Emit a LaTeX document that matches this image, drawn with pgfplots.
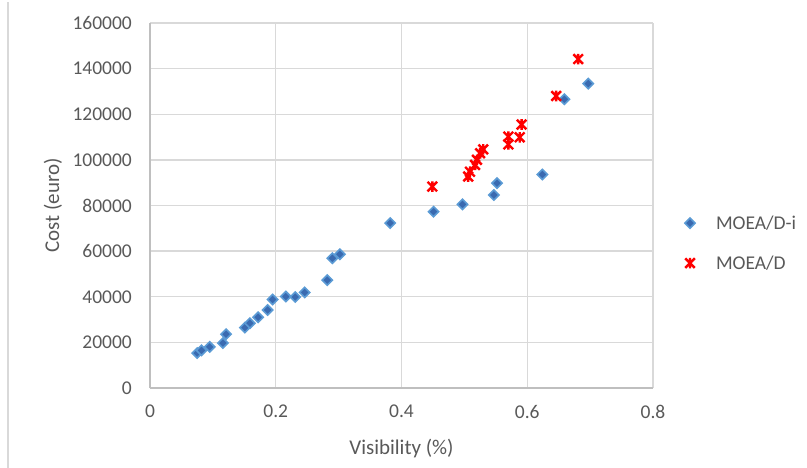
\documentclass[border=0pt]{standalone}
\usepackage{fontspec}
\setmainfont{Carlito}
\usepackage{pgfplots}
\pgfplotsset{compat=1.18}
\definecolor{txt}{HTML}{595959}
\definecolor{gridc}{HTML}{D9D9D9}
\definecolor{axc}{HTML}{BFBFBF}
\definecolor{bluef}{HTML}{3A6AB0}
\definecolor{bluee}{HTML}{5B9BD5}
\pgfdeclareplotmark{xstar}{%
 \pgfpathmoveto{\pgfqpoint{-\pgfplotmarksize}{-\pgfplotmarksize}}%
 \pgfpathlineto{\pgfqpoint{\pgfplotmarksize}{\pgfplotmarksize}}%
 \pgfpathmoveto{\pgfqpoint{-\pgfplotmarksize}{\pgfplotmarksize}}%
 \pgfpathlineto{\pgfqpoint{\pgfplotmarksize}{-\pgfplotmarksize}}%
 \pgfpathmoveto{\pgfqpoint{0pt}{-1.1\pgfplotmarksize}}%
 \pgfpathlineto{\pgfqpoint{0pt}{1.1\pgfplotmarksize}}%
 \pgfusepathqstroke}
\pgfplotstableread{
x y
0.075 15300
0.082 16500
0.095 18000
0.116 19700
0.121 23600
0.151 26500
0.159 28400
0.172 31000
0.187 34200
0.195 38800
0.216 40100
0.231 39900
0.246 41900
0.282 47300
0.290 56900
0.302 58600
0.382 72300
0.451 77300
0.497 80500
0.547 84600
0.552 89800
0.624 93600
0.659 126600
0.697 133400
}\bluedata
\pgfplotstableread{
x y
0.449 88300
0.506 92700
0.509 94800
0.517 97800
0.520 100000
0.525 102900
0.530 104600
0.570 106800
0.570 110200
0.588 109900
0.591 115500
0.646 128000
0.681 144200
}\reddata
\begin{document}
\begin{tikzpicture}
\path[use as bounding box] (0bp,0bp) rectangle (807bp,-468bp);
\draw[gridc, line width=1.2bp] (8bp,-2bp) -- (8bp,-468bp);
\begin{axis}[
 at={(150bp,-388bp)}, anchor=south west,
 scale only axis, width=503bp, height=365bp,
 xmin=0, xmax=0.8, ymin=0, ymax=160000,
 xtick={0,0.2,0.4,0.6,0.8}, ytick={0,20000,...,160000},
 scaled ticks=false,
 /pgf/number format/assume math mode=true,
 xticklabel style={/pgf/number format/fixed,/pgf/number format/precision=1, anchor=north, inner sep=0pt, yshift=-17bp},
 yticklabel style={/pgf/number format/fixed,/pgf/number format/1000 sep={}, anchor=east, inner sep=0pt, xshift=-18bp},
 tick label style={font=\fontsize{19.5bp}{22bp}\selectfont, text=txt},
 label style={font=\fontsize{21bp}{24bp}\selectfont, text=txt},
 major tick length=0pt,
 grid=major, major grid style={gridc, line width=1.3bp},
 axis lines*=left, axis line style={axc, line width=1.4bp},
 xlabel={Visibility (\%)}, ylabel={Cost (euro)},
 xlabel style={at={(axis description cs:0.5,-0.1644)}, anchor=center},
 ylabel style={at={(axis description cs:-0.1928,0.5)}, anchor=center, rotate=0},
 legend cell align=left,
 legend image code/.code={\path[draw=none,fill=none] (0bp,-6bp) (16bp,6bp); \draw[#1] plot coordinates {(8bp,0bp)};},
 legend style={draw=none, fill=none, inner sep=0pt, outer sep=0pt,
   at={(axis description cs:1.0577,0.397)}, anchor=west,
   row sep=25bp, column sep=18bp,
   font=\fontsize{19.5bp}{22bp}\selectfont, text=txt,
   nodes={inner sep=0pt}},
 clip=false,
]
\addplot[only marks, mark=square*, mark size=3.6bp, mark options={rotate=45, fill=bluef, draw=bluee, line width=1.6bp}] table[x=x,y=y] {\bluedata};
\addlegendentry{MOEA/D-i}
\addplot[only marks, mark=xstar, mark size=4.8bp, mark options={draw=red, line width=2.4bp}] table[x=x,y=y] {\reddata};
\addlegendentry{MOEA/D}
\end{axis}
\end{tikzpicture}
\end{document}
